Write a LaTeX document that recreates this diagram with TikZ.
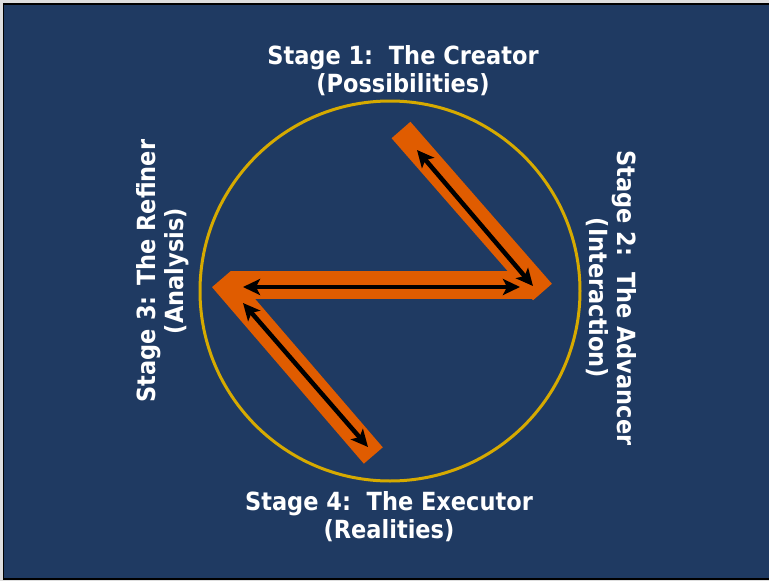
\documentclass[tikz,border=0pt]{standalone}
\usepackage{fontspec}
\usetikzlibrary{arrows.meta}
\newfontfamily\labfont{DejaVu Sans Condensed}[BoldFont={* Bold}]
\definecolor{bgblue}{RGB}{31,58,98}
\definecolor{barorange}{RGB}{224,92,0}
\definecolor{ringyellow}{RGB}{214,170,0}
\definecolor{outergray}{RGB}{222,222,222}
\tikzset{
  bar/.style={draw=barorange, line cap=butt},
  dblarrow/.style={draw=black, line width=4.5pt, {Stealth[length=17pt,width=16pt,inset=4pt]}-{Stealth[length=17pt,width=16pt,inset=4pt]}},
  lab/.style={text=white, font=\labfont\bfseries\fontsize{25}{28}\selectfont, align=center, inner sep=0pt}
}
\begin{document}
\begin{tikzpicture}[x=1pt,y=-1pt]
\useasboundingbox (0,0) rectangle (769,581);
\fill[outergray] (0,0) rectangle (769,581);
\draw[black, line width=1.5pt, fill=bgblue] (3.5,4) rectangle (775,579);
% ring
\node[draw=ringyellow, line width=3pt, circle, minimum size=380pt, inner sep=0pt] (ring) at (390,291) {};
% orange bars
\coordinate (a1) at (401,130);
\coordinate (a2) at (542.5,292);
\coordinate (b1) at (231,285);
\coordinate (b2) at (532,285);
\coordinate (c1) at (221.5,279);
\coordinate (c2) at (373.3,455.5);
\draw[bar, line width=25pt] (a1) -- (a2);
\draw[bar, line width=28pt] (b1) -- (b2);
\draw[bar, line width=25pt] (c1) -- (c2);
% arrows
\coordinate (p1) at (417,150);
\coordinate (p2) at (533,286);
\coordinate (q1) at (520,287);
\coordinate (q2) at (243,287);
\coordinate (r1) at (243,303);
\coordinate (r2) at (368,447);
\draw[dblarrow] (p1) -- (p2);
\draw[dblarrow] (q1) -- (q2);
\draw[dblarrow] (r1) -- (r2);
% labels
\node[lab] (s1) at (403,71) {Stage 1:\ \ The Creator\\(Possibilities)};
\node[lab, rotate=-90] (s2) at (611,298) {Stage 2:\ \ The Advancer\\(Interaction)};
\node[lab, rotate=90] (s3) at (163,271) {Stage 3: The Refiner\\(Analysis)};
\node[lab] (s4) at (389,517) {Stage 4:\ \ The Executor\\(Realities)};
\end{tikzpicture}
\end{document}
